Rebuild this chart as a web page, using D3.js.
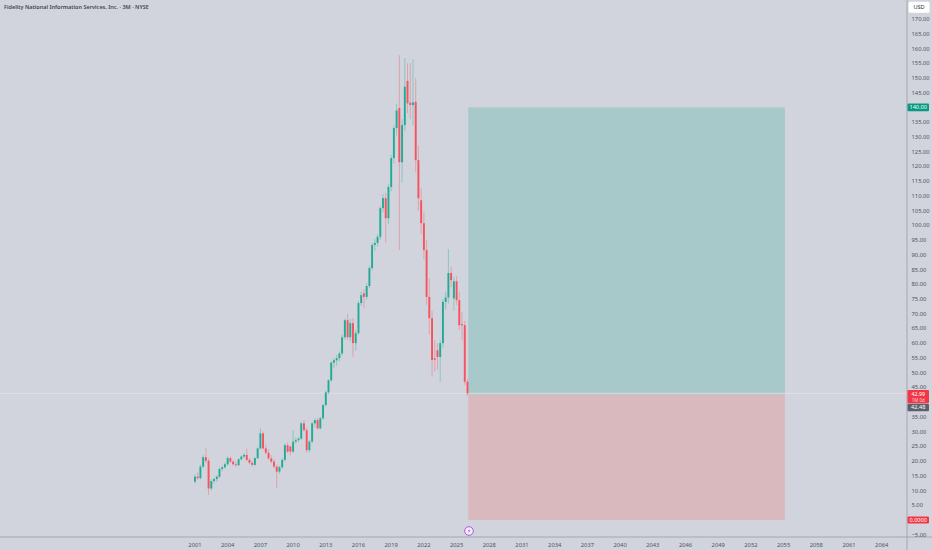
<!DOCTYPE html>
<html><head><meta charset="utf-8">
<script src="https://cdn.jsdelivr.net/npm/d3@7"></script>
<style>
html,body{margin:0;padding:0;background:#d1d4dc;}
svg{display:block;font-family:"Noto Sans","DejaVu Sans",sans-serif;}
</style></head>
<body><svg id="c" width="932" height="550"></svg>
<script>
const title = "Fidelity National Information Services, Inc. · 3M · NYSE";
const startQuarter = "2001-01-01";
// quarterly OHLC, 2001 Q1 .. 2026 Q1
const opens  = [13.0,14.7,14.2,18.1,21.3,20.1,10.7,13.2,13.9,14.7,17.3,17.9,18.9,21.0,19.8,18.9,18.6,20.6,21.5,22.1,20.4,19.4,18.7,21.0,24.3,29.4,24.3,22.8,20.9,19.8,18.1,16.4,17.9,20.4,25.4,24.9,23.2,26.6,27.1,27.6,32.8,30.5,23.7,26.6,32.8,33.9,31.1,34.5,39.0,43.3,47.4,53.4,54.2,54.9,56.5,62.0,67.8,62.0,66.8,60.0,63.4,73.6,76.9,75.7,79.4,85.5,93.3,94.0,96.1,105.8,109.2,102.4,113.0,122.8,133.0,139.8,121.4,134.0,149.0,141.6,140.8,141.9,122.1,108.5,100.7,91.6,75.7,68.5,54.9,57.6,55.3,60.0,74.0,75.5,83.8,75.2,81.0,74.6,66.5,66.1,46.9];
const highs  = [15.5,16.2,18.8,22.0,24.4,20.9,13.8,14.3,15.2,17.9,18.4,19.5,21.6,21.5,20.4,19.9,21.0,21.9,22.7,24.2,21.0,20.0,21.3,24.6,31.1,30.0,25.6,24.0,22.0,20.6,18.8,18.4,20.9,26.0,26.3,25.3,30.5,28.0,28.2,33.4,33.9,31.4,27.2,33.3,34.5,34.6,35.0,39.5,43.9,47.8,53.8,55.0,56.0,57.2,62.8,68.4,70.0,68.2,68.5,64.5,74.3,77.5,78.3,80.2,86.2,94.0,95.3,97.0,106.5,110.5,111.0,114.0,123.8,134.0,141.3,157.7,136.0,156.7,155.0,155.0,156.2,150.0,127.0,112.5,104.5,95.0,82.0,71.0,61.0,60.0,61.0,75.0,77.5,91.9,86.0,82.5,82.7,77.5,70.5,67.5,47.8];
const lows   = [12.4,13.6,13.8,17.6,19.4,8.5,9.9,12.4,13.0,14.2,16.5,17.4,18.4,19.4,18.5,18.0,18.3,20.2,21.0,19.9,18.9,18.2,18.4,20.7,24.0,23.9,22.2,20.5,19.2,17.6,10.8,15.6,17.4,19.9,22.7,22.0,22.8,25.9,26.4,27.1,30.0,22.9,23.0,26.0,31.5,30.6,30.7,34.0,38.5,42.7,46.9,51.5,52.3,53.8,55.8,61.2,61.0,60.5,55.4,57.5,62.8,72.6,72.0,74.8,78.7,84.7,91.3,92.8,95.0,104.4,94.0,100.5,111.5,121.0,130.5,91.6,114.5,132.0,138.0,136.0,134.0,118.0,105.0,97.0,88.5,73.0,63.0,48.6,50.5,51.0,46.9,58.5,71.5,73.5,79.0,71.0,73.0,64.5,61.0,45.8,42.2];
const closes = [14.7,14.2,18.1,21.3,20.1,10.7,13.2,13.9,14.7,17.3,17.9,18.9,21.0,19.8,18.9,18.6,20.6,21.5,22.1,20.4,19.4,18.7,21.0,24.3,29.4,24.3,22.8,20.9,19.8,18.1,16.4,17.9,20.4,25.4,23.2,23.2,26.6,27.1,27.6,32.8,30.5,23.7,26.6,32.8,33.9,31.1,34.5,39.0,43.3,47.4,53.4,54.2,54.9,56.5,62.0,67.8,62.0,66.8,60.0,63.4,73.6,76.3,75.7,79.4,85.5,93.3,94.0,96.1,105.8,109.2,102.4,113.0,122.8,133.0,139.0,121.4,134.0,147.0,141.4,140.8,141.7,122.1,109.2,100.7,91.6,75.7,68.5,54.3,54.4,55.3,60.0,74.0,75.5,83.8,81.4,81.0,74.6,66.1,66.1,46.9,42.99];
const yTicks = [-5,5,10,15,20,25,30,35,45,50,55,60,65,70,75,80,85,90,95,100,105,110,115,120,125,130,135,145,150,155,160,165,170];
const xTickYears = [2001,2004,2007,2010,2013,2016,2019,2022,2025,2028,2031,2034,2037,2040,2043,2046,2049,2052,2055,2058,2061,2064];
const lastPrice = 42.99, lastCountdown = "1M 0d";
const entryPrice = 42.48, targetPrice = 140, stopPrice = 0;
const boxStart = "2026-01-01", boxEnd = "2055-02-15";

const svg = d3.select("#c");
const W = 932, H = 550, axisX = 907, axisY = 537;
const x = d3.scaleUtc().domain([new Date(Date.UTC(2001,0,1)), new Date(Date.UTC(2064,0,1))]).range([195, 881.7]);
const y = d3.scaleLinear().domain([0,170]).range([520, 19]);
const start = new Date(startQuarter + "T00:00:00Z");
const data = closes.map((c,i)=>({d:d3.utcMonth.offset(start, 3*i), o:opens[i], h:highs[i], l:lows[i], c}));

svg.append("rect").attr("width",W).attr("height",H).attr("fill","#d1d4dc");

// position box
const bx0 = x(new Date(boxStart+"T00:00:00Z")) + 0.8, bx1 = x(new Date(boxEnd+"T00:00:00Z"));
svg.append("rect").attr("x",bx0).attr("y",y(targetPrice)).attr("width",bx1-bx0).attr("height",y(entryPrice)-y(targetPrice)).attr("fill","#a8c9c9");
svg.append("rect").attr("x",bx0).attr("y",y(entryPrice)).attr("width",bx1-bx0).attr("height",y(stopPrice)-y(entryPrice)).attr("fill","#d9b9bd");

// last price line
svg.append("line").attr("x1",0).attr("x2",axisX).attr("y1",y(lastPrice)).attr("y2",y(lastPrice)).attr("stroke","#e2e4ea").attr("stroke-width",0.8);

// candles
const up = "#22ab94", dn = "#f7525f";
const g = svg.append("g");
g.selectAll("line.w").data(data).join("line").attr("class","w")
  .attr("x1",d=>x(d.d)).attr("x2",d=>x(d.d)).attr("y1",d=>y(d.h)).attr("y2",d=>y(d.l))
  .attr("stroke",d=>d.c>=d.o?up:dn).attr("stroke-opacity",0.55).attr("stroke-width",0.7);
g.selectAll("rect.b").data(data).join("rect").attr("class","b")
  .attr("x",d=>x(d.d)-0.95).attr("width",1.9)
  .attr("y",d=>y(Math.max(d.o,d.c))).attr("height",d=>Math.max(0.8, Math.abs(y(d.o)-y(d.c))))
  .attr("fill",d=>d.c>=d.o?up:dn);

// axes lines
svg.append("line").attr("x1",0).attr("x2",W).attr("y1",axisY).attr("y2",axisY).attr("stroke","#9a9da6").attr("stroke-width",0.8);
svg.append("line").attr("x1",axisX).attr("x2",axisX).attr("y1",0).attr("y2",H).attr("stroke","#9a9da6").attr("stroke-width",0.8);

// y tick labels
svg.append("g").selectAll("text").data(yTicks).join("text")
  .attr("x",911.5).attr("y",d=>y(d)).attr("dy","0.35em")
  .attr("font-size",5.8).attr("fill","#50535e").text(d=>d3.format(".2f")(d));

// x tick labels
svg.append("g").selectAll("text").data(xTickYears).join("text")
  .attr("x",d=>x(new Date(Date.UTC(d,0,1)))).attr("y",545).attr("dy","0.35em").attr("text-anchor","middle")
  .attr("font-size",5.8).attr("fill","#50535e").text(d=>d);

// title
svg.append("text").attr("x",4).attr("y",7).attr("dy","0.35em").attr("font-size",5.5).attr("font-weight",600).attr("fill","#42454f").text(title);

// USD box
svg.append("rect").attr("x",908.5).attr("y",1.8).attr("width",21).attr("height",11).attr("rx",1.5).attr("fill","#ffffff");
svg.append("text").attr("x",919).attr("y",7.3).attr("dy","0.35em").attr("text-anchor","middle").attr("font-size",5.6).attr("fill","#2a2e39").text("USD");

// price labels
function label(v, fill, txt, h){
  const yy = y(v);
  svg.append("rect").attr("x",907.5).attr("y",yy-h/2).attr("width",21.5).attr("height",h).attr("rx",1).attr("fill",fill);
  svg.append("text").attr("x",918.2).attr("y",yy).attr("dy","0.35em").attr("text-anchor","middle").attr("font-size",5.6).attr("fill","#ffffff").text(txt);
}
label(targetPrice, "#089981", d3.format(".2f")(targetPrice), 7.6);
label(stopPrice, "#f23645", d3.format(".4f")(stopPrice), 7.2);
// last price label with countdown
{
  const yy = y(lastPrice);
  svg.append("rect").attr("x",907.5).attr("y",yy-3.2).attr("width",21.5).attr("height",13.2).attr("rx",1).attr("fill","#f23645");
  svg.append("text").attr("x",918.2).attr("y",yy+0.4).attr("dy","0.35em").attr("text-anchor","middle").attr("font-size",5.3).attr("fill","#ffffff").text(d3.format(".2f")(lastPrice));
  svg.append("text").attr("x",918.2).attr("y",yy+6.8).attr("dy","0.35em").attr("text-anchor","middle").attr("font-size",4.4).attr("fill","#ffd6d9").text(lastCountdown);
  const ey = yy + 14.2;
  svg.append("rect").attr("x",907.5).attr("y",ey-3.8).attr("width",21.5).attr("height",7.6).attr("rx",1).attr("fill","#5d606b");
  svg.append("text").attr("x",918.2).attr("y",ey).attr("dy","0.35em").attr("text-anchor","middle").attr("font-size",5.6).attr("fill","#ffffff").text(d3.format(".2f")(entryPrice));
}

// event icon
{
  const ix = x(new Date(boxStart+"T00:00:00Z")) + 1.5, iy = 531;
  svg.append("circle").attr("cx",ix).attr("cy",iy).attr("r",4.3).attr("fill","#f3eefa").attr("stroke","#a24ad8").attr("stroke-width",0.9);
  svg.append("path").attr("d",`M${ix+0.9},${iy-2.6} L${ix-1.3},${iy+0.3} L${ix+0.2},${iy+0.3} L${ix-0.9},${iy+2.6} L${ix+1.4},${iy-0.4} L${ix-0.1},${iy-0.4} Z`).attr("fill","#a24ad8");
}
</script></body></html>
